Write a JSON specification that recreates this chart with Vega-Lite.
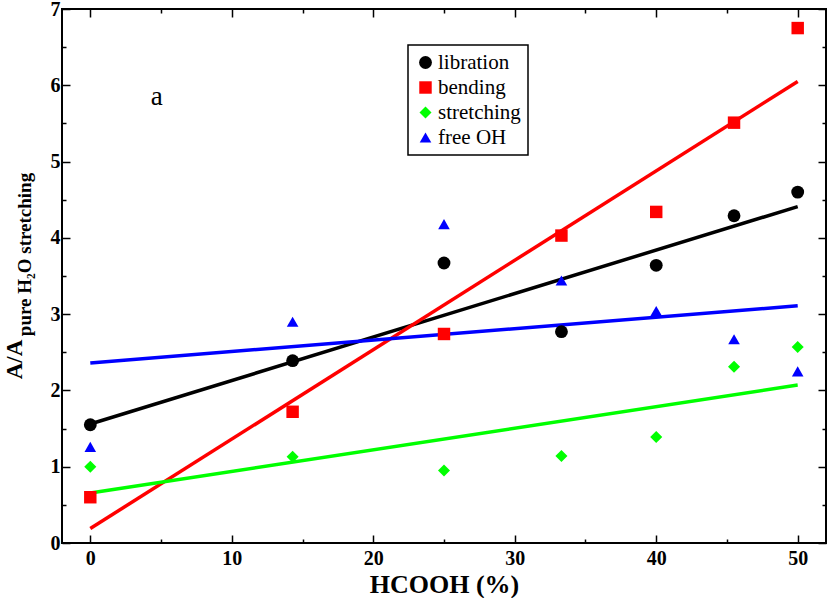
{
  "$schema": "https://vega.github.io/schema/vega-lite/v6.json",
  "width": 764,
  "height": 534,
  "autosize": {"type": "none"},
  "padding": {"left": 62, "top": 9, "right": 4, "bottom": 55},
  "datasets": {
    "points": [
      {"series": "libration", "hcooh": 0, "ratio": 1.55},
      {"series": "libration", "hcooh": 14.3, "ratio": 2.39},
      {"series": "libration", "hcooh": 25, "ratio": 3.67},
      {"series": "libration", "hcooh": 33.3, "ratio": 2.77},
      {"series": "libration", "hcooh": 40, "ratio": 3.64},
      {"series": "libration", "hcooh": 45.5, "ratio": 4.29},
      {"series": "libration", "hcooh": 50, "ratio": 4.6},
      {"series": "bending", "hcooh": 0, "ratio": 0.6},
      {"series": "bending", "hcooh": 14.3, "ratio": 1.72},
      {"series": "bending", "hcooh": 25, "ratio": 2.74},
      {"series": "bending", "hcooh": 33.3, "ratio": 4.03},
      {"series": "bending", "hcooh": 40, "ratio": 4.34},
      {"series": "bending", "hcooh": 45.5, "ratio": 5.51},
      {"series": "bending", "hcooh": 50, "ratio": 6.75},
      {"series": "stretching", "hcooh": 0, "ratio": 1.0},
      {"series": "stretching", "hcooh": 14.3, "ratio": 1.13},
      {"series": "stretching", "hcooh": 25, "ratio": 0.95},
      {"series": "stretching", "hcooh": 33.3, "ratio": 1.14},
      {"series": "stretching", "hcooh": 40, "ratio": 1.39},
      {"series": "stretching", "hcooh": 45.5, "ratio": 2.31},
      {"series": "stretching", "hcooh": 50, "ratio": 2.57},
      {"series": "free OH", "hcooh": 0, "ratio": 1.26},
      {"series": "free OH", "hcooh": 14.3, "ratio": 2.9},
      {"series": "free OH", "hcooh": 25, "ratio": 4.18},
      {"series": "free OH", "hcooh": 33.3, "ratio": 3.44},
      {"series": "free OH", "hcooh": 40, "ratio": 3.04},
      {"series": "free OH", "hcooh": 45.5, "ratio": 2.67},
      {"series": "free OH", "hcooh": 50, "ratio": 2.25}
    ],
    "fits": [
      {"series": "libration", "hcooh": 0, "ratio": 1.56},
      {"series": "libration", "hcooh": 50, "ratio": 4.41},
      {"series": "bending", "hcooh": 0, "ratio": 0.19},
      {"series": "bending", "hcooh": 50, "ratio": 6.05},
      {"series": "stretching", "hcooh": 0, "ratio": 0.655},
      {"series": "stretching", "hcooh": 50, "ratio": 2.07},
      {"series": "free OH", "hcooh": 0, "ratio": 2.36},
      {"series": "free OH", "hcooh": 50, "ratio": 3.11}
    ],
    "notes": [
      {"hcooh": 4.7, "ratio": 5.85, "label": "a"}
    ]
  },
  "layer": [
    {
      "data": {"name": "fits"},
      "mark": {"type": "line", "strokeWidth": 3.5},
      "encoding": {
        "x": {
          "field": "hcooh", "type": "quantitative",
          "scale": {"domain": [-2, 52], "nice": false, "zero": false},
          "axis": {
            "orient": "bottom", "offset": -534, "values": [0, 5, 10, 15, 20, 25, 30, 35, 40, 45, 50],
            "labels": false, "title": null, "domain": false, "grid": false,
            "tickColor": "black", "tickWidth": 1.5,
            "tickSize": {"condition": {"test": "datum.value % 10 === 0", "value": 8}, "value": 4}
          }
        },
        "y": {
          "field": "ratio", "type": "quantitative",
          "scale": {"domain": [0, 7], "nice": false},
          "axis": {
            "orient": "left", "offset": -764, "values": [0, 0.5, 1, 1.5, 2, 2.5, 3, 3.5, 4, 4.5, 5, 5.5, 6, 6.5, 7],
            "labels": false, "title": null, "domain": false, "grid": false,
            "tickColor": "black", "tickWidth": 1.5,
            "tickSize": {"condition": {"test": "datum.value % 1 === 0", "value": 8}, "value": 4}
          }
        },
        "color": {
          "field": "series", "type": "nominal",
          "scale": {"domain": ["libration", "bending", "stretching", "free OH"], "range": ["#000000", "#ff0000", "#00ff00", "#0000ff"]}
        }
      }
    },
    {
      "data": {"name": "points"},
      "mark": {"type": "point", "filled": true, "opacity": 1},
      "encoding": {
        "x": {
          "field": "hcooh", "type": "quantitative",
          "scale": {"domain": [-2, 52], "nice": false, "zero": false},
          "axis": {
            "orient": "bottom", "values": [0, 10, 20, 30, 40, 50],
            "domain": false, "grid": false, "ticks": false,
            "labelFont": "Liberation Serif", "labelFontSize": 20, "labelFontWeight": "bold", "labelColor": "black",
            "labelPadding": 5,
            "title": "HCOOH (%)", "titleFont": "Liberation Serif", "titleFontSize": 26, "titleFontWeight": "bold",
            "titleColor": "black", "titlePadding": 3
          }
        },
        "y": {
          "field": "ratio", "type": "quantitative",
          "scale": {"domain": [0, 7], "nice": false},
          "axis": {
            "orient": "left", "values": [0, 1, 2, 3, 4, 5, 6, 7], "format": "d",
            "domain": false, "grid": false, "ticks": false,
            "labelFont": "Liberation Serif", "labelFontSize": 20, "labelFontWeight": "bold", "labelColor": "black",
            "labelPadding": 2,
            "title": "A/A", "titleFont": "Liberation Serif", "titleFontSize": 23, "titleFontWeight": "bold",
            "titleColor": "black", "titleAngle": -90, "titleAlign": "center", "titleBaseline": "alphabetic",
            "titleX": -41, "titleY": 350
          }
        },
        "color": {
          "field": "series", "type": "nominal",
          "scale": {"domain": ["libration", "bending", "stretching", "free OH"], "range": ["#000000", "#ff0000", "#00ff00", "#0000ff"]}
        },
        "shape": {
          "field": "series", "type": "nominal",
          "scale": {"domain": ["libration", "bending", "stretching", "free OH"], "range": ["circle", "square", "diamond", "triangle-up"]}
        },
        "size": {
          "field": "series", "type": "nominal",
          "scale": {"domain": ["libration", "bending", "stretching", "free OH"], "range": [165, 135, 200, 200]}
        }
      }
    },
    {
      "data": {"name": "notes"},
      "mark": {"type": "text", "font": "Liberation Serif", "fontSize": 27, "color": "black", "baseline": "alphabetic", "dy": 8},
      "encoding": {
        "x": {
          "field": "hcooh", "type": "quantitative",
          "scale": {"domain": [-2, 52], "nice": false, "zero": false},
          "axis": {
            "orient": "top", "offset": -534, "values": [0, 5, 10, 15, 20, 25, 30, 35, 40, 45, 50],
            "labels": false, "title": null, "domain": false, "grid": false,
            "tickColor": "black", "tickWidth": 1.5,
            "tickSize": {"condition": {"test": "datum.value % 10 === 0", "value": 8}, "value": 4}
          }
        },
        "y": {
          "field": "ratio", "type": "quantitative",
          "scale": {"domain": [0, 7], "nice": false},
          "axis": {
            "orient": "right", "offset": -764, "values": [0, 0.5, 1, 1.5, 2, 2.5, 3, 3.5, 4, 4.5, 5, 5.5, 6, 6.5, 7],
            "labels": false, "domain": false, "grid": false,
            "tickColor": "black", "tickWidth": 1.5,
            "tickSize": {"condition": {"test": "datum.value % 1 === 0", "value": 8}, "value": 4},
            "title": "pure H₂O stretching", "titleFont": "Liberation Serif", "titleFontSize": 19, "titleFontWeight": "bold",
            "titleColor": "black", "titleAngle": -90, "titleAlign": "center", "titleBaseline": "alphabetic",
            "titleX": -32, "titleY": 245
          }
        },
        "text": {"field": "label"}
      }
    }
  ],
  "resolve": {"axis": {"x": "independent", "y": "independent"}},
  "config": {
    "view": {"stroke": "black", "strokeWidth": 2},
    "background": "white",
    "legend": {
      "orient": "none", "legendX": 346, "legendY": 36, "title": null,
      "strokeColor": "black", "strokeWidth": 1.5, "fillColor": "white", "padding": 7,
      "labelFont": "Liberation Serif", "labelFontSize": 21, "labelColor": "black", "labelOffset": 2,
      "symbolSize": 160, "symbolStrokeWidth": 0, "symbolOpacity": 1, "rowPadding": 3
    }
  }
}
